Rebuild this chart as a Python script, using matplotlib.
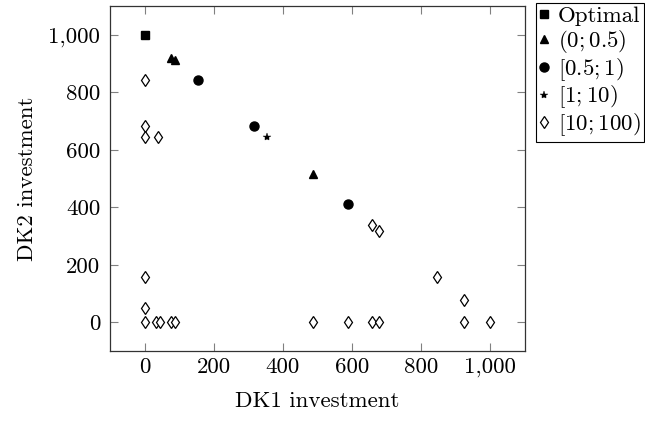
#!/usr/bin/env python3
"""Scatter of DK1 vs DK2 investment, grouped by ratio class."""

import matplotlib

matplotlib.use("Agg")
import matplotlib.pyplot as plt
from matplotlib.ticker import FuncFormatter

# (DK1, DK2) investments per group
OPTIMAL_X = [0]
OPTIMAL_Y = [1000]
GROUP_A_X = [75, 87, 486]          # (0; 0.5)
GROUP_A_Y = [920, 911, 517]
GROUP_B_X = [154, 317, 588]        # [0.5; 1)
GROUP_B_Y = [843, 681, 411]
GROUP_C_X = [353]                  # [1; 10)
GROUP_C_Y = [644]
GROUP_D_X = [0, 0, 0, 38, 0, 0, 0, 34, 44, 77, 89, 486, 589, 657, 679,
             923, 1000, 845, 923, 658, 678]   # [10; 100)
GROUP_D_Y = [843, 681, 644, 644, 156, 48, 0, 0, 0, 0, 0, 0, 0, 0, 0,
             0, 0, 156, 79, 340, 319]

X_TICKS = [0, 200, 400, 600, 800, 1000]
Y_TICKS = [0, 200, 400, 600, 800, 1000]

plt.rcParams["font.family"] = "serif"
plt.rcParams["font.serif"] = ["cmr10", "DejaVu Serif"]
plt.rcParams["mathtext.fontset"] = "cm"
plt.rcParams["axes.formatter.use_mathtext"] = True
plt.rcParams["font.size"] = 16.5


def thousands(value, _pos):
    return f"{int(value):,}"


fig = plt.figure(figsize=(6.45, 4.21), dpi=100)
ax = fig.add_axes([110 / 645, 1 - 351 / 421, 415 / 645, 345 / 421])

ax.plot(OPTIMAL_X, OPTIMAL_Y, linestyle="none", marker="s", markersize=6,
        color="black", label="Optimal")
ax.plot(GROUP_A_X, GROUP_A_Y, linestyle="none", marker="^", markersize=6,
        color="black", label=r"$(0;0.5)$")
ax.plot(GROUP_B_X, GROUP_B_Y, linestyle="none", marker="o", markersize=6.5,
        color="black", label=r"$[0.5;1)$")
ax.plot(GROUP_C_X, GROUP_C_Y, linestyle="none", marker="*", markersize=6,
        color="black", markeredgewidth=0.3, label=r"$[1;10)$")
ax.plot(GROUP_D_X, GROUP_D_Y, linestyle="none", marker="d", markersize=6,
        markerfacecolor="white", markeredgecolor="black", markeredgewidth=0.9,
        label=r"$[10;100)$")

ax.set_xlim(-100, 1100)
ax.set_ylim(-100, 1100)
ax.set_xticks(X_TICKS)
ax.set_yticks(Y_TICKS)
ax.xaxis.set_major_formatter(FuncFormatter(thousands))
ax.yaxis.set_major_formatter(FuncFormatter(thousands))
ax.tick_params(direction="in", length=6, width=0.8, color="#808080",
               top=True, right=True)
ax.tick_params(axis="x", pad=5)
ax.tick_params(axis="y", pad=7)
for spine in ax.spines.values():
    spine.set_color("#333333")
    spine.set_linewidth(0.9)

ax.set_xlabel("DK1 investment", labelpad=10)
ax.set_ylabel("DK2 investment", labelpad=8)

leg = ax.legend(loc="upper left", bbox_to_anchor=(536 / 645, 1 - 3 / 421),
                bbox_transform=fig.transFigure, fancybox=False, frameon=True,
                edgecolor="black", framealpha=1, handlelength=0.4,
                handletextpad=0.4, borderpad=0.15, labelspacing=0.05,
                borderaxespad=0, fontsize=16.5)
leg.get_frame().set_linewidth(0.8)

fig.savefig("out.png", dpi=100)
